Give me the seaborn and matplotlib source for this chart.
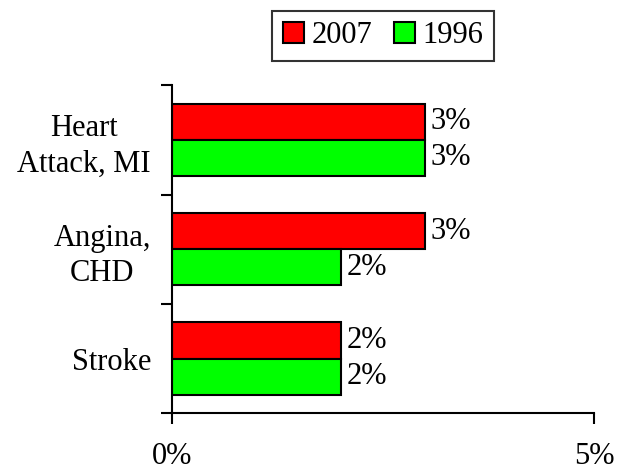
import pandas as pd
import matplotlib
matplotlib.use('Agg')
import matplotlib.pyplot as plt
import seaborn as sns
from matplotlib.ticker import FixedLocator

# 数据
categories = ['Heart\nAttack, MI', 'Angina,\nCHD', 'Stroke']
years = ['2007', '1996']
values_2007 = [3, 3, 2]
values_1996 = [3, 2, 2]

df = pd.DataFrame({
    'Condition': categories * 2,
    'Year': ['2007'] * 3 + ['1996'] * 3,
    'Value': values_2007 + values_1996,
})

sns.set_theme(style='white')
plt.rcParams['font.family'] = ['Liberation Serif', 'DejaVu Serif']
plt.rcParams['text.color'] = 'black'
plt.rcParams['xtick.color'] = 'black'
plt.rcParams['ytick.color'] = 'black'
fs = 22

fig = plt.figure(figsize=(6.18, 4.76), dpi=100)
ax = fig.add_axes([0.278, 0.132, 0.683, 0.689])

sns.barplot(data=df, y='Condition', x='Value', hue='Year', hue_order=years,
            palette={'2007': '#ff0000', '1996': '#00ff00'}, orient='h',
            width=0.66, edgecolor='black', linewidth=1.5, saturation=1,
            ax=ax)

for cont in ax.containers:
    ax.bar_label(cont, labels=[f'{v:g}%' for v in cont.datavalues],
                 padding=4, fontsize=fs, color='black')

ax.set_xlim(0, 5)
ax.set_ylim(2.5, -0.5)
ax.set_xticks([0, 5])
ax.set_xticklabels(['0%', '5%'], fontsize=fs)
ax.tick_params(axis='x', direction='out', length=8, width=1.5, pad=13,
               bottom=True, colors='black')
ax.tick_params(axis='y', which='major', length=0, pad=15, labelsize=fs,
               labelcolor='black')
ax.yaxis.set_minor_locator(FixedLocator([-0.5, 0.5, 1.5, 2.5]))
ax.tick_params(axis='y', which='minor', direction='out', length=8,
               width=1.5, left=True, color='black')
for lbl in ax.get_yticklabels():
    lbl.set_multialignment('center')
    lbl.set_linespacing(1.3)

for side in ['top', 'right']:
    ax.spines[side].set_visible(False)
for side in ['left', 'bottom']:
    ax.spines[side].set_color('black')
    ax.spines[side].set_linewidth(1.5)
ax.set_xlabel('')
ax.set_ylabel('')

leg = ax.legend(loc='center', ncol=2, fontsize=fs,
                frameon=True, fancybox=False, handlelength=0.7,
                handleheight=0.7, handletextpad=0.25, columnspacing=0.7,
                borderpad=0.35, edgecolor='black')
leg.set_bbox_to_anchor((0.62, 0.925), transform=fig.transFigure)
leg.get_frame().set_linewidth(1.5)
for t in leg.get_texts():
    t.set_color('black')

fig.savefig('out.png', dpi=100, facecolor='white')
